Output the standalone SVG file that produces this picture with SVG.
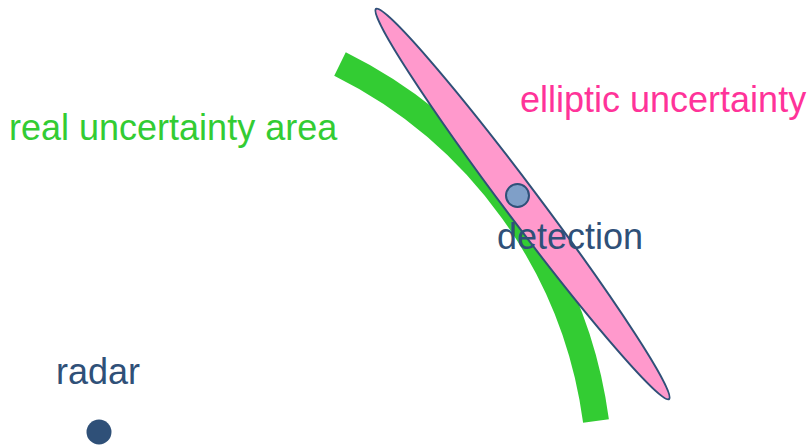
<svg xmlns="http://www.w3.org/2000/svg" width="810" height="448" viewBox="0 0 810 448">
<style>
text{font-family:"Liberation Sans",Arial,sans-serif;font-size:36px}
.blue{fill:#2F5078}
</style>
<rect width="810" height="448" fill="#fff"/>
<g id="real-area">
<path d="M 340 64 A 468 468 0 0 1 596 421" fill="none" stroke="#33CC33" stroke-width="26"/>
<text x="9" y="140" fill="#33CC33">real uncertainty area</text>
</g>
<g id="elliptic">
<ellipse cx="522.5" cy="204" rx="244" ry="17" transform="rotate(53.1 522.5 204)" fill="#FF99CC" stroke="#2F5078" stroke-width="2"/>
<text x="520" y="112" fill="#FF3399">elliptic uncertainty</text>
</g>
<g id="detection">
<circle cx="517.5" cy="195.5" r="11.5" fill="#7F9FC8" stroke="#2F5078" stroke-width="2"/>
<text x="497" y="249" class="blue">detection</text>
</g>
<g id="radar">
<circle cx="99" cy="432" r="12.5" class="blue"/>
<text x="56" y="384" class="blue">radar</text>
</g>
<g id="connectors"></g>
</svg>
